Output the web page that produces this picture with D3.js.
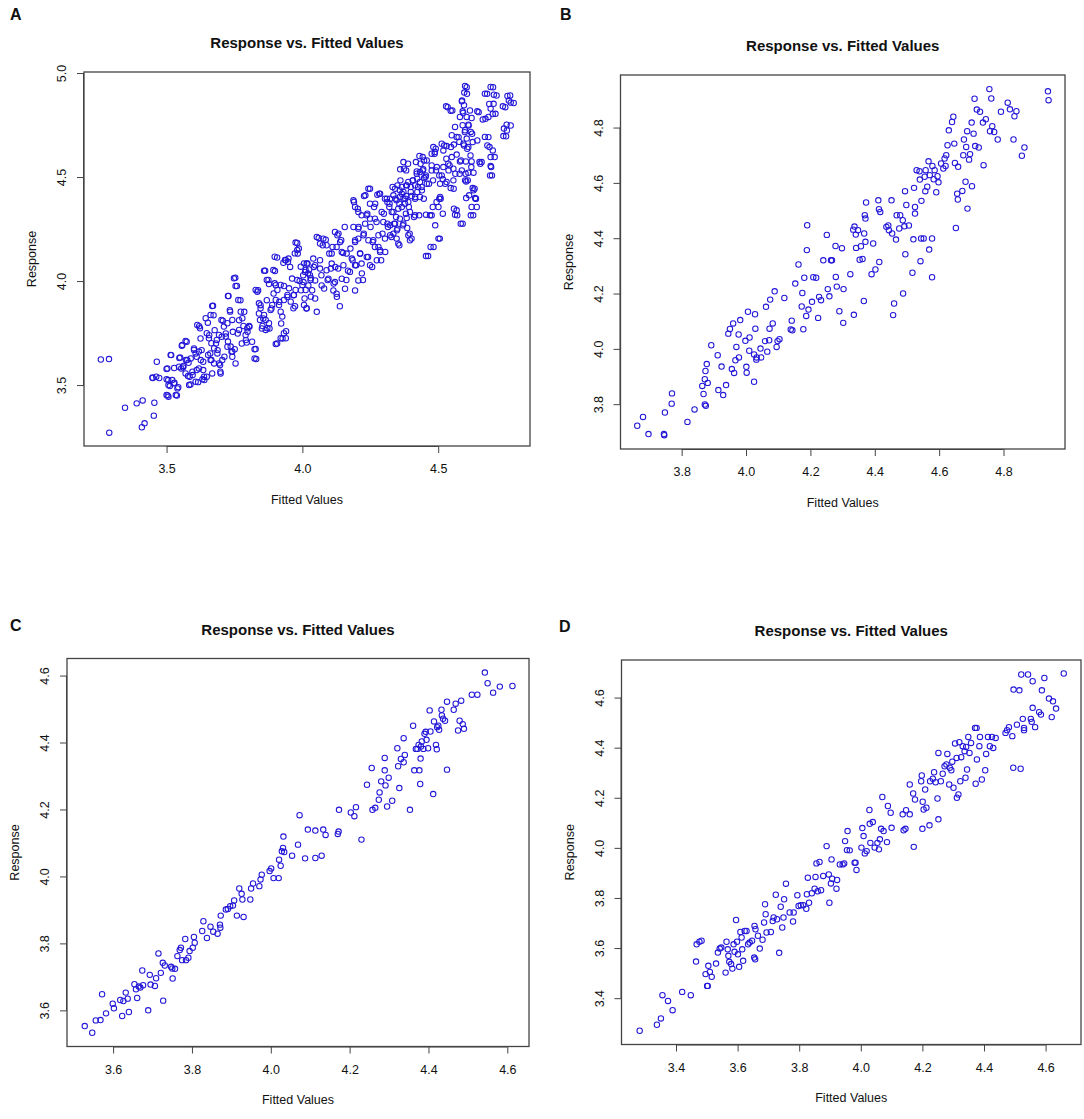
<!DOCTYPE html>
<html>
<head>
<meta charset="utf-8">
<script src="https://cdn.jsdelivr.net/npm/d3@7"></script>
<style>
  body { margin: 0; background: #fff; }
  svg text { font-family: "Liberation Sans", Arial, sans-serif; fill: #111; }
</style>
</head>
<body>
<div class="graph"></div>
<script>
// fitted value, response pairs
const pointsA = [
  [3.258,3.623],[3.288,3.625],[3.289,3.271],[3.347,3.391],[3.390,3.412],[3.412,3.426],[3.409,3.297],[3.419,3.316],
  [3.455,3.415],[3.453,3.353],[3.449,3.534],[3.464,3.612],[3.473,3.534],[3.504,3.450],[3.507,3.444],[3.503,3.580],
  [3.506,3.524],[3.512,3.495],[3.517,3.644],[3.529,3.511],[3.538,3.450],[3.528,3.582],[3.543,3.490],[3.547,3.630],
  [3.556,3.689],[3.574,3.708],[3.561,3.585],[3.571,3.620],[3.581,3.607],[3.585,3.540],[3.588,3.503],[3.596,3.548],
  [3.601,3.676],[3.607,3.652],[3.611,3.572],[3.616,3.514],[3.620,3.783],[3.625,3.724],[3.629,3.668],[3.635,3.612],
  [3.639,3.524],[3.648,3.540],[3.652,3.800],[3.657,3.740],[3.661,3.652],[3.665,3.620],[3.668,3.556],[3.671,3.881],
  [3.673,3.836],[3.677,3.764],[3.682,3.700],[3.688,3.668],[3.693,3.604],[3.698,3.564],[3.703,3.732],[3.707,3.809],
  [3.713,3.636],[3.718,3.748],[3.724,3.684],[3.728,3.928],[3.733,3.860],[3.739,3.660],[3.744,3.756],[3.753,4.016],
  [3.759,3.976],[3.762,3.748],[3.767,3.812],[3.772,3.908],[3.777,3.700],[3.786,3.852],[3.792,3.716],[3.798,3.756],
  [3.805,3.780],[3.815,3.708],[3.828,3.673],[3.830,3.625],[3.837,3.956],[3.840,3.844],[3.846,3.884],[3.851,3.772],
  [3.856,3.820],[3.863,4.050],[3.869,3.908],[3.875,4.005],[3.879,3.772],[3.886,3.868],[3.894,3.940],[3.899,4.048],
  [3.902,3.980],[3.907,3.700],[3.907,4.113],[3.915,3.900],[3.922,3.796],[3.927,3.724],[3.932,3.976],[3.939,4.100],
  [3.940,3.759],[3.945,3.924],[3.949,4.108],[3.955,4.068],[3.962,4.012],[3.968,3.932],[3.973,3.879],[3.981,4.183],
  [3.983,4.132],[3.987,4.156],[3.990,4.000],[3.995,3.956],[4.003,4.028],[4.008,3.916],[4.015,3.868],[4.019,4.084],
  [4.025,4.056],[4.030,4.005],[4.036,3.956],[4.042,4.068],[4.047,3.916],[4.053,3.852],[4.060,4.207],[4.065,4.100],
  [4.070,4.028],[4.075,4.172],[4.080,3.964],[4.086,4.199],[4.093,4.005],[4.099,4.132],[4.105,4.060],[4.111,4.164],
  [4.115,3.988],[4.121,4.068],[4.127,3.924],[4.133,4.228],[4.138,3.879],[4.143,4.196],[4.150,4.135],[4.156,4.260],
  [4.162,4.005],[4.168,4.050],[4.177,4.156],[4.185,4.100],[4.190,4.380],[4.194,4.196],[4.198,4.076],[4.204,4.348],
  [4.207,4.260],[4.213,4.132],[4.219,4.037],[4.223,4.005],[4.226,4.228],[4.232,4.412],[4.239,4.324],[4.242,4.116],
  [4.249,4.444],[4.251,4.260],[4.257,4.068],[4.261,4.196],[4.268,4.372],[4.273,4.284],[4.280,4.164],[4.286,4.420],
  [4.290,4.100],[4.295,4.228],[4.300,4.324],[4.305,4.140],[4.311,4.396],[4.315,4.260],[4.321,4.372],[4.328,4.212],
  [4.332,4.452],[4.338,4.276],[4.343,4.396],[4.348,4.244],[4.353,4.348],[4.357,4.172],[4.361,4.484],[4.366,4.420],
  [4.370,4.268],[4.374,4.540],[4.379,4.396],[4.381,4.324],[4.385,4.460],[4.389,4.564],[4.392,4.356],[4.395,4.228],
  [4.399,4.428],[4.402,4.204],[4.407,4.484],[4.411,4.308],[4.415,4.404],[4.421,4.516],[4.426,4.452],[4.430,4.316],
  [4.435,4.564],[4.440,4.436],[4.443,4.596],[4.447,4.396],[4.453,4.500],[4.458,4.580],[4.463,4.120],[4.466,4.468],
  [4.470,4.316],[4.476,4.532],[4.481,4.484],[4.483,4.164],[4.487,4.612],[4.489,4.268],[4.491,4.636],[4.495,4.548],
  [4.501,4.356],[4.506,4.204],[4.509,4.396],[4.513,4.508],[4.517,4.324],[4.522,4.652],[4.526,4.468],[4.530,4.588],
  [4.535,4.836],[4.538,4.532],[4.542,4.556],[4.547,4.644],[4.552,4.820],[4.557,4.444],[4.563,4.516],[4.568,4.340],
  [4.570,4.316],[4.575,4.692],[4.579,4.516],[4.584,4.580],[4.588,4.868],[4.590,4.276],[4.592,4.808],[4.595,4.652],
  [4.598,4.716],[4.601,4.516],[4.605,4.932],[4.606,4.900],[4.607,4.636],[4.609,4.484],[4.612,4.748],[4.614,4.412],
  [4.617,4.820],[4.619,4.604],[4.622,4.548],[4.625,4.708],[4.629,4.316],[4.634,4.444],[4.638,4.396],[4.642,4.356],
  [4.644,4.676],[4.649,4.812],[4.655,4.564],[4.660,4.572],[4.674,4.780],[4.680,4.900],[4.685,4.692],[4.689,4.644],
  [4.695,4.548],[4.698,4.508],[4.702,4.932],[4.704,4.852],[4.708,4.596],[4.711,4.804],[4.715,4.892],[4.747,4.836],
  [4.750,4.696],[4.753,4.724],[4.760,4.868],[4.765,4.892],[4.767,4.748],[4.778,4.856],
  // lower part of the cloud, second reading
  [3.448,3.536],[3.462,3.540],[3.500,3.577],[3.515,3.645],[3.500,3.528],[3.521,3.524],[3.507,3.500],[3.527,3.508],
  [3.540,3.484],[3.500,3.452],[3.534,3.452],[3.550,3.633],[3.558,3.693],[3.570,3.712],[3.546,3.588],[3.554,3.580],
  [3.562,3.592],[3.576,3.620],[3.589,3.628],[3.570,3.556],[3.579,3.544],[3.595,3.564],[3.583,3.500],[3.607,3.516],
  [3.632,3.528],[3.638,3.540],[3.601,3.669],[3.619,3.661],[3.611,3.636],[3.626,3.620],[3.619,3.580],[3.635,3.572],
  [3.613,3.789],[3.623,3.773],[3.644,3.821],[3.668,3.880],[3.662,3.837],[3.648,3.749],[3.656,3.725],[3.665,3.701],
  [3.675,3.677],[3.685,3.717],[3.653,3.645],[3.662,3.620],[3.675,3.604],[3.687,3.652],[3.697,3.596],[3.705,3.620],
  [3.699,3.556],[3.693,3.741],[3.702,3.813],[3.711,3.781],[3.724,3.797],[3.726,3.928],[3.734,3.853],[3.742,3.813],
  [3.718,3.733],[3.726,3.709],[3.736,3.685],[3.742,3.661],[3.751,3.672],[3.742,3.636],[3.754,3.604],[3.748,4.013],
  [3.754,3.976],[3.764,3.909],[3.773,3.853],[3.779,3.821],[3.767,3.765],[3.783,3.784],[3.791,3.741],[3.797,3.773],
  [3.804,3.784],[3.795,3.704],[3.824,3.672],[3.824,3.628],[3.828,3.957],[3.834,3.949],[3.840,3.893],[3.846,3.869],
  [3.859,3.837],[3.844,3.813],[3.853,3.784],[3.865,3.813],[3.871,3.773],[3.877,3.797],[3.865,3.765],[3.883,3.861],
  [3.889,3.885],[3.902,3.909],[3.859,4.050],[3.869,4.005],[3.877,3.986],[3.893,4.053],[3.898,3.989],[3.908,3.957],
  [3.920,3.981],[3.914,3.885],[3.920,3.853],[3.926,3.829],[3.932,3.749],[3.939,3.725],[3.902,3.697],[3.920,3.725],
  [3.932,3.909],[3.945,3.933],[3.951,3.965],[3.957,3.901],[3.969,3.933],[3.975,3.957],[3.981,4.005],[3.967,3.869],
  [3.975,4.185],[3.981,4.149],[3.972,4.133],[3.947,4.093],[3.936,4.101],[3.930,4.088],[3.898,4.117],[3.994,4.069],
  [4.006,4.085],[4.012,4.053],[4.021,4.037],[4.031,4.013],[4.000,3.981],[4.012,3.957],[4.031,3.925],[4.006,3.885],
  [4.016,3.869],
  // upper part of the cloud, second reading
  [4.599,4.938],[4.693,4.933],[4.596,4.906],[4.672,4.901],[4.705,4.896],[4.755,4.890],[4.767,4.858],[4.738,4.840],
  [4.529,4.840],[4.546,4.819],[4.587,4.864],[4.595,4.845],[4.688,4.851],[4.693,4.829],[4.701,4.803],[4.590,4.816],
  [4.580,4.789],[4.605,4.789],[4.623,4.784],[4.644,4.816],[4.664,4.777],[4.685,4.789],[4.752,4.752],[4.742,4.733],
  [4.740,4.697],[4.562,4.741],[4.590,4.749],[4.599,4.725],[4.611,4.752],[4.620,4.717],[4.605,4.685],[4.593,4.660],
  [4.611,4.644],[4.627,4.668],[4.672,4.693],[4.681,4.652],[4.701,4.628],[4.693,4.596],[4.550,4.701],[4.568,4.693],
  [4.578,4.669],[4.558,4.656],[4.531,4.649],[4.513,4.660],[4.519,4.628],[4.482,4.644],[4.488,4.620],[4.476,4.612],
  [4.550,4.596],[4.568,4.608],[4.580,4.575],[4.602,4.575],[4.623,4.575],[4.652,4.572],[4.431,4.601],[4.448,4.580],
  [4.418,4.572],[4.372,4.572],[4.360,4.537],[4.382,4.532],[4.421,4.527],[4.445,4.537],[4.476,4.556],[4.492,4.532],
  [4.519,4.548],[4.537,4.564],[4.556,4.540],[4.587,4.532],[4.611,4.521],[4.630,4.521],[4.693,4.553],[4.691,4.508],
  [4.504,4.508],[4.517,4.489],[4.507,4.468],[4.531,4.476],[4.556,4.484],[4.599,4.484],[4.603,4.479],[4.627,4.447],
  [4.630,4.436],[4.636,4.399],[4.639,4.396],[4.603,4.399],[4.623,4.356],[4.620,4.316],[4.583,4.276],[4.546,4.447],
  [4.558,4.348],[4.562,4.319],[4.507,4.404],[4.504,4.396],[4.494,4.380],[4.480,4.356],[4.455,4.319],[4.476,4.316],
  [4.501,4.204],[4.472,4.164],[4.455,4.120],[4.341,4.444],[4.350,4.460],[4.359,4.436],[4.366,4.452],[4.372,4.428],
  [4.382,4.460],[4.390,4.476],[4.399,4.452],[4.406,4.484],[4.415,4.460],[4.423,4.492],[4.433,4.476],[4.439,4.452],
  [4.448,4.495],[4.455,4.508],[4.458,4.468],[4.359,4.404],[4.372,4.396],[4.382,4.409],[4.390,4.380],[4.402,4.409],
  [4.415,4.396],[4.423,4.428],[4.433,4.404],[4.347,4.388],[4.357,4.372],[4.366,4.356],[4.378,4.372],[4.335,4.412],
  [4.323,4.396],[4.433,4.524],[4.443,4.532],[4.188,4.388],[4.194,4.356],[4.206,4.332],[4.218,4.316],[4.227,4.409],
  [4.243,4.444],[4.249,4.372],[4.264,4.356],[4.276,4.415],[4.283,4.420],[4.292,4.332],[4.304,4.396],[4.313,4.380],
  [4.320,4.356],[4.329,4.332],[4.298,4.284],[4.313,4.276],[4.323,4.268],[4.341,4.276],[4.350,4.252],[4.335,4.228],
  [4.347,4.204],[4.353,4.180],[4.323,4.220],[4.304,4.204],[4.280,4.220],[4.286,4.148],[4.259,4.188],[4.243,4.196],
  [4.225,4.220],[4.206,4.204],[4.194,4.188],[4.188,4.260],[4.206,4.252],[4.231,4.276],[4.249,4.300],[4.267,4.300],
  [4.237,4.316],[4.390,4.220],[4.396,4.196],[4.386,4.255],[4.396,4.332],[4.415,4.316],[4.335,4.332],[4.345,4.308],
  [4.359,4.300],[4.372,4.276],[4.384,4.303],[4.053,4.212],[4.077,4.204],[4.065,4.180],[4.089,4.172],[4.108,4.132],
  [4.120,4.236],[4.129,4.220],[4.139,4.188],[4.126,4.164],[4.145,4.140],[4.163,4.132],[4.182,4.108],[4.194,4.076],
  [4.175,4.044],[4.151,4.076],[4.132,4.060],[4.108,4.084],[4.089,4.052],[4.065,4.060],[4.047,4.076],[4.040,4.108],
  [4.016,4.084],[4.010,4.044],[4.028,4.028],[4.004,3.995],[4.022,3.979],[4.047,4.003],[4.071,3.979],[4.096,4.011],
  [4.120,3.995],[4.145,4.011],[4.157,3.963],[4.114,3.955],[4.212,4.132],[4.218,4.084],[4.237,4.116],[4.249,4.076],
  [4.274,4.100],[4.286,4.140],[4.267,4.164],[4.206,4.003],[4.194,3.955],[4.126,3.939]
];

const pointsB = [
  [3.662,3.722],[3.680,3.754],[3.697,3.692],[3.745,3.692],[3.746,3.688],[3.748,3.770],[3.769,3.802],[3.770,3.839],
  [3.818,3.736],[3.840,3.781],[3.864,3.866],[3.868,3.837],[3.872,3.799],[3.875,3.794],[3.872,3.890],[3.874,3.920],
  [3.878,3.945],[3.881,3.877],[3.892,4.013],[3.912,3.977],[3.914,3.851],[3.924,3.936],[3.929,3.833],[3.938,3.869],
  [3.945,4.055],[3.950,4.072],[3.956,3.927],[3.960,4.092],[3.963,3.913],[3.967,3.959],[3.970,4.007],[3.977,4.052],
  [3.978,3.969],[3.982,4.104],[3.998,4.029],[4.001,3.935],[4.002,3.914],[4.006,4.134],[4.010,3.993],[4.011,4.041],
  [4.025,3.881],[4.025,3.980],[4.028,4.125],[4.029,4.073],[4.032,3.961],[4.033,3.969],[4.045,4.001],[4.047,3.969],
  [4.059,4.028],[4.062,4.152],[4.066,3.990],[4.072,4.031],[4.073,4.073],[4.075,4.178],[4.083,4.092],[4.089,4.208],
  [4.095,4.007],[4.098,4.028],[4.104,4.035],[4.119,4.184],[4.139,4.070],[4.142,4.102],[4.144,4.067],[4.153,4.236],
  [4.163,4.305],[4.173,4.153],[4.175,4.202],[4.178,4.071],[4.181,4.257],[4.187,4.119],[4.189,4.357],[4.190,4.447],
  [4.194,4.142],[4.205,4.170],[4.209,4.259],[4.218,4.257],[4.224,4.112],[4.227,4.188],[4.233,4.176],[4.240,4.320],
  [4.251,4.412],[4.254,4.216],[4.259,4.190],[4.264,4.320],[4.267,4.320],[4.278,4.372],[4.279,4.260],[4.282,4.225],
  [4.290,4.136],[4.298,4.364],[4.302,4.094],[4.303,4.216],[4.324,4.270],[4.333,4.431],[4.335,4.123],[4.337,4.442],
  [4.341,4.413],[4.342,4.365],[4.348,4.429],[4.353,4.322],[4.357,4.371],[4.362,4.325],[4.366,4.173],[4.367,4.417],
  [4.369,4.483],[4.371,4.471],[4.371,4.387],[4.373,4.529],[4.390,4.270],[4.395,4.381],[4.402,4.287],[4.411,4.537],
  [4.413,4.505],[4.414,4.314],[4.417,4.495],[4.436,4.441],[4.442,4.446],[4.444,4.429],[4.452,4.537],[4.454,4.417],
  [4.457,4.122],[4.460,4.164],[4.466,4.395],[4.468,4.483],[4.476,4.435],[4.479,4.483],[4.487,4.465],[4.488,4.200],
  [4.492,4.443],[4.494,4.570],[4.495,4.342],[4.498,4.520],[4.506,4.446],[4.517,4.275],[4.520,4.396],[4.522,4.582],
  [4.525,4.489],[4.525,4.513],[4.530,4.646],[4.539,4.642],[4.540,4.612],[4.542,4.317],[4.545,4.535],[4.544,4.399],
  [4.552,4.399],[4.555,4.622],[4.557,4.570],[4.558,4.646],[4.563,4.586],[4.567,4.678],[4.569,4.359],[4.571,4.628],
  [4.578,4.399],[4.578,4.259],[4.579,4.661],[4.583,4.613],[4.586,4.646],[4.591,4.566],[4.595,4.624],[4.598,4.602],
  [4.606,4.670],[4.613,4.652],[4.617,4.688],[4.620,4.661],[4.622,4.700],[4.626,4.736],[4.630,4.790],[4.640,4.820],
  [4.644,4.839],[4.647,4.742],[4.649,4.672],[4.652,4.437],[4.656,4.561],[4.658,4.540],[4.659,4.658],[4.672,4.571],
  [4.675,4.700],[4.677,4.757],[4.682,4.604],[4.684,4.730],[4.687,4.787],[4.688,4.507],[4.693,4.684],[4.696,4.704],
  [4.701,4.818],[4.702,4.588],[4.707,4.778],[4.710,4.904],[4.712,4.733],[4.717,4.865],[4.723,4.728],[4.727,4.857],
  [4.736,4.818],[4.738,4.664],[4.745,4.830],[4.756,4.939],[4.758,4.787],[4.762,4.905],[4.765,4.805],[4.771,4.784],
  [4.782,4.757],[4.792,4.857],[4.813,4.890],[4.820,4.866],[4.831,4.757],[4.834,4.841],[4.840,4.859],[4.857,4.698],
  [4.865,4.728],[4.938,4.931],[4.940,4.899]
];

const pointsC = [
  [3.528,3.553],[3.547,3.533],[3.556,3.570],[3.568,3.571],[3.572,3.648],[3.582,3.591],[3.599,3.620],[3.602,3.606],
  [3.618,3.631],[3.623,3.583],[3.626,3.628],[3.632,3.653],[3.637,3.635],[3.640,3.595],[3.654,3.678],[3.658,3.663],
  [3.661,3.637],[3.665,3.671],[3.669,3.668],[3.674,3.719],[3.676,3.675],[3.689,3.600],[3.693,3.706],[3.695,3.677],
  [3.706,3.673],[3.709,3.696],[3.715,3.770],[3.721,3.712],[3.726,3.742],[3.727,3.629],[3.731,3.734],[3.747,3.730],
  [3.750,3.725],[3.751,3.695],[3.757,3.724],[3.763,3.762],[3.769,3.780],[3.772,3.787],[3.775,3.750],[3.783,3.813],
  [3.785,3.750],[3.791,3.757],[3.794,3.777],[3.802,3.787],[3.805,3.819],[3.807,3.802],[3.826,3.837],[3.829,3.866],
  [3.838,3.816],[3.847,3.850],[3.854,3.835],[3.865,3.829],[3.871,3.856],[3.872,3.847],[3.873,3.883],[3.886,3.901],
  [3.891,3.903],[3.897,3.911],[3.904,3.913],[3.907,3.928],[3.914,3.883],[3.920,3.964],[3.926,3.948],[3.928,3.931],
  [3.931,3.879],[3.948,3.931],[3.950,3.964],[3.955,3.979],[3.971,3.971],[3.974,3.991],[3.977,4.005],[3.997,4.016],
  [4.001,4.024],[4.007,3.995],[4.020,3.995],[4.021,4.050],[4.025,4.032],[4.028,4.075],[4.031,4.085],[4.032,4.119],
  [4.034,4.073],[4.054,4.062],[4.069,4.095],[4.073,4.183],[4.087,4.054],[4.094,4.140],[4.113,4.055],[4.113,4.137],
  [4.129,4.062],[4.133,4.140],[4.139,4.124],[4.170,4.127],[4.172,4.134],[4.173,4.199],[4.203,4.191],[4.212,4.180],
  [4.216,4.207],[4.230,4.110],[4.244,4.274],[4.256,4.324],[4.258,4.199],[4.265,4.205],[4.274,4.229],[4.276,4.251],
  [4.280,4.284],[4.289,4.354],[4.289,4.317],[4.291,4.272],[4.295,4.209],[4.299,4.295],[4.308,4.226],[4.321,4.383],
  [4.323,4.329],[4.326,4.264],[4.330,4.351],[4.337,4.413],[4.337,4.341],[4.340,4.363],[4.353,4.199],[4.361,4.450],
  [4.364,4.317],[4.368,4.381],[4.372,4.381],[4.375,4.393],[4.377,4.317],[4.379,4.276],[4.380,4.352],[4.381,4.388],
  [4.383,4.403],[4.387,4.381],[4.390,4.426],[4.393,4.432],[4.395,4.408],[4.399,4.383],[4.403,4.496],[4.405,4.433],
  [4.412,4.246],[4.414,4.463],[4.419,4.393],[4.421,4.380],[4.422,4.446],[4.425,4.450],[4.427,4.438],[4.433,4.498],
  [4.434,4.481],[4.437,4.471],[4.442,4.465],[4.447,4.522],[4.447,4.319],[4.464,4.498],[4.469,4.516],[4.475,4.436],
  [4.479,4.465],[4.483,4.525],[4.487,4.455],[4.490,4.441],[4.510,4.543],[4.524,4.543],[4.543,4.609],[4.550,4.577],
  [4.564,4.549],[4.581,4.567],[4.613,4.569]
];

const pointsD = [
  [3.282,3.270],[3.338,3.294],[3.351,3.319],[3.356,3.412],[3.374,3.389],[3.389,3.352],[3.420,3.425],[3.448,3.412],
  [3.465,3.546],[3.467,3.615],[3.476,3.625],[3.483,3.629],[3.496,3.496],[3.501,3.449],[3.503,3.449],[3.505,3.529],
  [3.510,3.505],[3.516,3.485],[3.530,3.538],[3.536,3.582],[3.542,3.598],[3.547,3.602],[3.561,3.502],[3.564,3.625],
  [3.568,3.595],[3.570,3.569],[3.573,3.545],[3.579,3.536],[3.583,3.518],[3.587,3.615],[3.590,3.585],[3.595,3.712],
  [3.598,3.625],[3.601,3.575],[3.605,3.525],[3.609,3.664],[3.613,3.642],[3.615,3.595],[3.618,3.549],[3.623,3.668],
  [3.629,3.668],[3.634,3.615],[3.639,3.622],[3.647,3.629],[3.654,3.562],[3.657,3.555],[3.655,3.688],[3.658,3.675],
  [3.666,3.649],[3.672,3.598],[3.681,3.633],[3.686,3.702],[3.689,3.775],[3.691,3.735],[3.694,3.662],[3.708,3.664],
  [3.714,3.708],[3.717,3.722],[3.724,3.813],[3.728,3.715],[3.735,3.581],[3.740,3.765],[3.745,3.682],[3.749,3.722],
  [3.751,3.795],[3.757,3.857],[3.769,3.742],[3.780,3.706],[3.782,3.742],[3.794,3.811],[3.798,3.768],[3.805,3.771],
  [3.813,3.771],[3.823,3.757],[3.825,3.815],[3.828,3.881],[3.832,3.781],[3.841,3.819],[3.850,3.837],[3.853,3.884],
  [3.856,3.938],[3.860,3.827],[3.866,3.944],[3.871,3.831],[3.878,3.888],[3.889,4.007],[3.896,3.894],[3.898,3.781],
  [3.903,3.858],[3.905,3.954],[3.907,3.877],[3.921,3.837],[3.923,3.872],[3.932,3.934],[3.941,3.934],[3.946,3.938],
  [3.949,4.027],[3.955,3.991],[3.957,4.067],[3.964,3.990],[3.980,3.941],[3.983,3.941],[3.986,3.912],[4.002,4.001],
  [4.005,4.079],[4.009,4.047],[4.013,3.978],[4.019,3.987],[4.028,4.151],[4.029,4.096],[4.031,4.020],[4.039,4.103],
  [4.045,4.001],[4.054,4.020],[4.059,3.994],[4.062,4.034],[4.066,4.076],[4.070,4.203],[4.074,4.067],[4.085,4.023],
  [4.088,4.167],[4.097,4.140],[4.100,4.080],[4.136,4.134],[4.139,4.070],[4.145,4.076],[4.147,4.150],[4.159,4.253],
  [4.159,4.134],[4.170,4.217],[4.172,4.004],[4.176,4.193],[4.196,4.266],[4.198,4.289],[4.200,4.076],[4.201,4.184],
  [4.204,4.153],[4.209,4.233],[4.213,4.160],[4.223,4.090],[4.225,4.266],[4.234,4.276],[4.238,4.302],[4.243,4.262],
  [4.249,4.197],[4.252,4.379],[4.252,4.114],[4.260,4.266],[4.266,4.296],[4.272,4.326],[4.278,4.333],[4.281,4.375],
  [4.287,4.253],[4.289,4.320],[4.294,4.310],[4.297,4.344],[4.301,4.240],[4.306,4.417],[4.311,4.359],[4.312,4.200],
  [4.317,4.213],[4.320,4.422],[4.323,4.266],[4.326,4.362],[4.331,4.406],[4.337,4.386],[4.340,4.280],[4.342,4.403],
  [4.345,4.313],[4.349,4.443],[4.353,4.379],[4.358,4.419],[4.371,4.479],[4.376,4.479],[4.373,4.256],[4.377,4.353],
  [4.385,4.406],[4.387,4.443],[4.393,4.273],[4.404,4.310],[4.407,4.375],[4.413,4.443],[4.419,4.406],[4.426,4.443],
  [4.430,4.399],[4.438,4.439],[4.470,4.459],[4.475,4.470],[4.481,4.482],[4.492,4.446],[4.495,4.320],[4.496,4.632],
  [4.507,4.492],[4.515,4.629],[4.519,4.316],[4.521,4.692],[4.526,4.515],[4.530,4.479],[4.530,4.470],[4.543,4.692],
  [4.552,4.515],[4.555,4.503],[4.558,4.559],[4.558,4.665],[4.566,4.482],[4.579,4.542],[4.585,4.532],[4.588,4.629],
  [4.596,4.678],[4.611,4.596],[4.620,4.522],[4.624,4.585],[4.634,4.556],[4.659,4.696]
];

// axis limits and tick labels per panel
const limitsA = { x: [3.196, 4.838], y: [3.207, 5.005] };
const limitsB = { x: [3.610, 4.991], y: [3.638, 4.990] };
const limitsC = { x: [3.483, 4.655], y: [3.492, 4.651] };
const limitsD = { x: [3.223, 4.715], y: [3.215, 4.750] };
const ticksA = { x: [3.5, 4.0, 4.5], y: [3.5, 4.0, 4.5, 5.0] };
const ticksB = { x: [3.8, 4.0, 4.2, 4.4, 4.6, 4.8], y: [3.8, 4.0, 4.2, 4.4, 4.6, 4.8] };
const ticksC = { x: [3.6, 3.8, 4.0, 4.2, 4.4, 4.6], y: [3.6, 3.8, 4.0, 4.2, 4.4, 4.6] };
const ticksD = { x: [3.4, 3.6, 3.8, 4.0, 4.2, 4.4, 4.6], y: [3.4, 3.6, 3.8, 4.0, 4.2, 4.4, 4.6] };

const chartTitle = 'Response vs. Fitted Values';
const xLabel = 'Fitted Values';
const yLabel = 'Response';

const W = 1084, H = 1119;
const svg = d3.select('.graph').append('svg').attr('width', W).attr('height', H);

// plot box of each panel on the page
const panels = [
  { letter: 'A', pts: pointsA, lim: limitsA, ticks: ticksA, box: [84, 530, 72, 446], lx: 10, ly: 14 },
  { letter: 'B', pts: pointsB, lim: limitsB, ticks: ticksB, box: [620.5, 1065, 75, 449], lx: 560, ly: 14 },
  { letter: 'C', pts: pointsC, lim: limitsC, ticks: ticksC, box: [67, 529, 658.5, 1046.5], lx: 10, ly: 625 },
  { letter: 'D', pts: pointsD, lim: limitsD, ticks: ticksD, box: [621.5, 1081, 660, 1044.5], lx: 559, ly: 626 }
];

const blue = '#2317d8';

panels.forEach(p => {
  const [x0, x1, y0, y1] = p.box;
  const g = svg.append('g');

  const xScale = d3.scaleLinear().domain(p.lim.x).range([x0, x1]);
  const yScale = d3.scaleLinear().domain(p.lim.y).range([y1, y0]);

  // R style axes: line from first to last tick, labels below
  const xAxis = d3.axisBottom(xScale).tickValues(p.ticks.x).tickFormat(d3.format('.1f'))
    .tickSizeInner(7).tickSizeOuter(0);
  const gx = g.append('g').attr('transform', `translate(0,${y1})`).call(xAxis);
  const yAxis = d3.axisLeft(yScale).tickValues(p.ticks.y).tickFormat(d3.format('.1f'))
    .tickSizeInner(7).tickSizeOuter(0);
  const gy = g.append('g').attr('transform', `translate(${x0},0)`).call(yAxis);

  [gx, gy].forEach(a => {
    a.select('.domain').remove();
    a.selectAll('line').attr('stroke', '#444').attr('stroke-width', 1);
    a.selectAll('text').attr('font-size', 12.5).attr('fill', '#222')
      .style('font-family', '"Liberation Sans", Arial, sans-serif');
  });
  // axis lines spanning ticks only
  g.append('line').attr('x1', xScale(p.ticks.x[0])).attr('x2', xScale(p.ticks.x[p.ticks.x.length - 1]))
    .attr('y1', y1 + 0.5).attr('y2', y1 + 0.5).attr('stroke', '#444');
  g.append('line').attr('y1', yScale(p.ticks.y[0])).attr('y2', yScale(p.ticks.y[p.ticks.y.length - 1]))
    .attr('x1', x0 - 0.5).attr('x2', x0 - 0.5).attr('stroke', '#444');

  gx.selectAll('.tick text').attr('dy', null).attr('y', 23).attr('dominant-baseline', 'central');
  gy.selectAll('.tick text')
    .attr('x', null).attr('dy', null)
    .attr('text-anchor', 'middle').attr('dominant-baseline', 'central')
    .attr('transform', 'translate(-22,0) rotate(-90)');

  // box
  g.append('rect').attr('x', x0).attr('y', y0).attr('width', x1 - x0).attr('height', y1 - y0)
    .attr('fill', 'none').attr('stroke', '#444').attr('stroke-width', 1.3);

  // points
  g.append('g').selectAll('circle').data(p.pts).join('circle')
    .attr('cx', d => xScale(d[0])).attr('cy', d => yScale(d[1]))
    .attr('r', 2.7).attr('fill', 'none').attr('stroke', blue).attr('stroke-width', 1.05);

  const cx = (x0 + x1) / 2, cy = (y0 + y1) / 2;
  g.append('text').attr('x', cx).attr('y', y0 - 29.5).attr('text-anchor', 'middle')
    .attr('dominant-baseline', 'central').attr('font-size', 15).attr('font-weight', 'bold').text(chartTitle);
  g.append('text').attr('x', cx).attr('y', y1 + 53.5).attr('text-anchor', 'middle')
    .attr('dominant-baseline', 'central').attr('font-size', 12.5).attr('fill', '#222').text(xLabel);
  g.append('text').attr('transform', `translate(${x0 - 52},${cy}) rotate(-90)`).attr('text-anchor', 'middle')
    .attr('dominant-baseline', 'central').attr('font-size', 12.5).attr('fill', '#222').text(yLabel);
  g.append('text').attr('x', p.lx).attr('y', p.ly).attr('dominant-baseline', 'central')
    .attr('font-size', 16).attr('font-weight', 'bold').text(p.letter);
});
</script>
</body>
</html>
